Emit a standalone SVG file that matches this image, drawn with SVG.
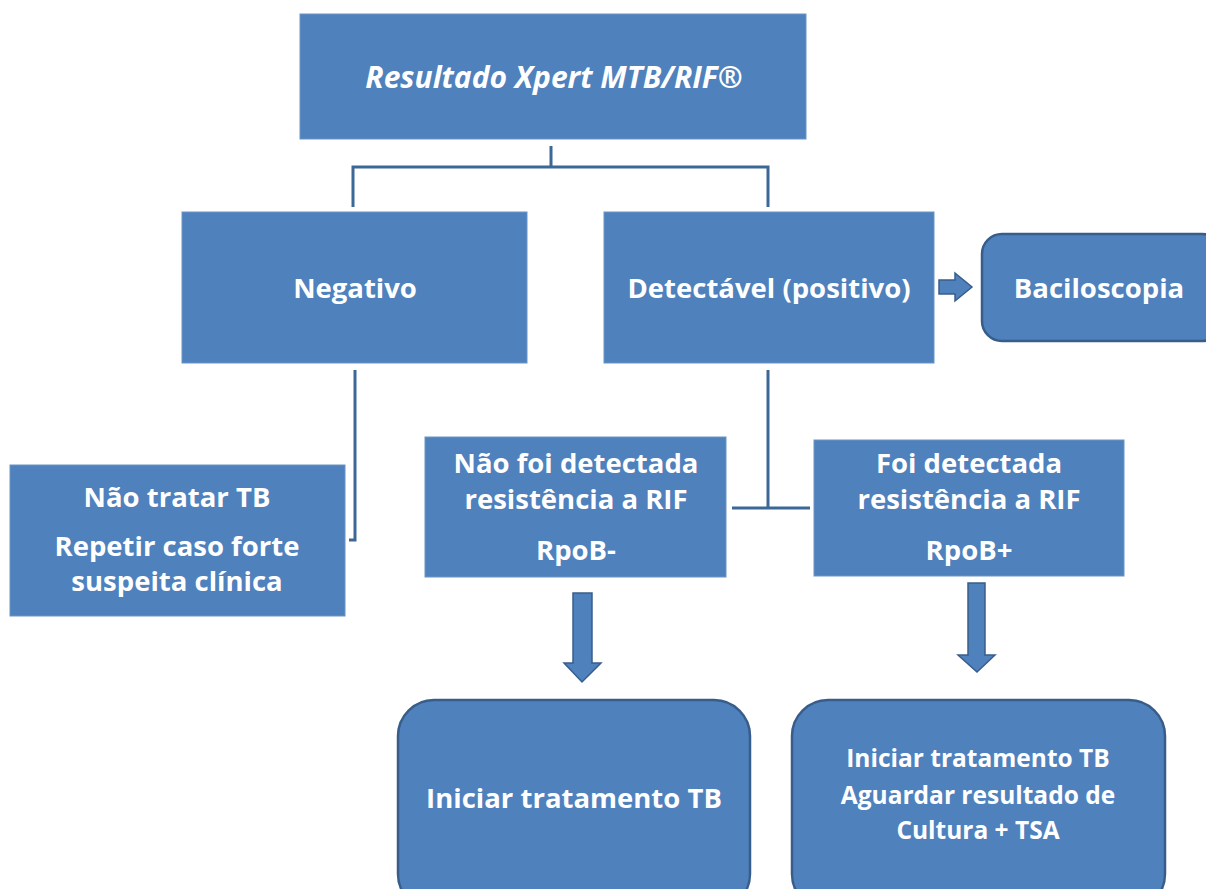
<svg xmlns="http://www.w3.org/2000/svg" width="1206" height="889" viewBox="0 0 1206 889">
<style>
.box{fill:#4f81bd;stroke:#6a93c6;stroke-width:1}
.rbox{fill:#4f81bd;stroke:#385d8a;stroke-width:2.5}
.t{font-family:"Open Sans","Liberation Sans",sans-serif;font-weight:bold;fill:#ffffff;text-anchor:middle;font-size:27.5px}
.title{font-style:italic;font-size:30px}
.small{font-size:24.5px}
.conn{fill:none;stroke:#3d6797;stroke-width:3}
.barrow{fill:#4f81bd;stroke:#385d8a;stroke-width:1.5}
</style>
<rect width="1206" height="889" fill="#ffffff"/>
<g id="connectors">
<path class="conn" d="M551,146 V167 M353,207 V167 H768 V207"/>
<path class="conn" d="M355,370 V540 H349"/>
<path class="conn" d="M768,370 V508 M732,508 H810"/>
<path class="barrow" d="M939,280 H955 V273 L972,287 L955,301 V294 H939 Z"/>
<path class="barrow" d="M573,593 H592 V663 H601 L582,682 L564,663 H573 Z"/>
<path class="barrow" d="M968,583 H985 V655 H995 L977,672 L958,655 H968 Z"/>
</g>
<g id="node-top">
<rect class="box" x="300" y="14" width="506" height="125"/>
<text class="t title" x="554" y="88">Resultado Xpert MTB/RIF®</text>
</g>
<g id="node-negativo">
<rect class="box" x="182" y="212" width="345" height="151"/>
<text class="t" x="355" y="298">Negativo</text>
</g>
<g id="node-detectavel">
<rect class="box" x="604" y="212" width="330" height="151"/>
<text class="t" x="769" y="298">Detectável (positivo)</text>
</g>
<g id="node-baciloscopia">
<rect class="rbox" x="982" y="234" width="240" height="107" rx="20"/>
<text class="t" x="1099" y="298">Baciloscopia</text>
</g>
<g id="node-nao-tratar">
<rect class="box" x="10" y="465" width="335" height="151"/>
<text class="t" x="177" y="507">Não tratar TB</text>
<text class="t" x="177" y="556">Repetir caso forte</text>
<text class="t" x="177" y="591">suspeita clínica</text>
</g>
<g id="node-nao-detectada">
<rect class="box" x="425" y="437" width="301" height="140"/>
<text class="t" x="576" y="473">Não foi detectada</text>
<text class="t" x="576" y="509">resistência a RIF</text>
<text class="t" x="576" y="560">RpoB-</text>
</g>
<g id="node-detectada">
<rect class="box" x="814" y="440" width="310" height="136"/>
<text class="t" x="969" y="473">Foi detectada</text>
<text class="t" x="969" y="509">resistência a RIF</text>
<text class="t" x="969" y="560">RpoB+</text>
</g>
<g id="node-iniciar">
<rect class="rbox" x="398" y="700" width="352" height="210" rx="36"/>
<text class="t" x="574" y="808">Iniciar tratamento TB</text>
</g>
<g id="node-iniciar-aguardar">
<rect class="rbox" x="792" y="700" width="373" height="210" rx="36"/>
<text class="t small" x="978" y="767">Iniciar tratamento TB</text>
<text class="t small" x="978" y="804">Aguardar resultado de</text>
<text class="t small" x="978" y="839">Cultura + TSA</text>
</g>
</svg>
